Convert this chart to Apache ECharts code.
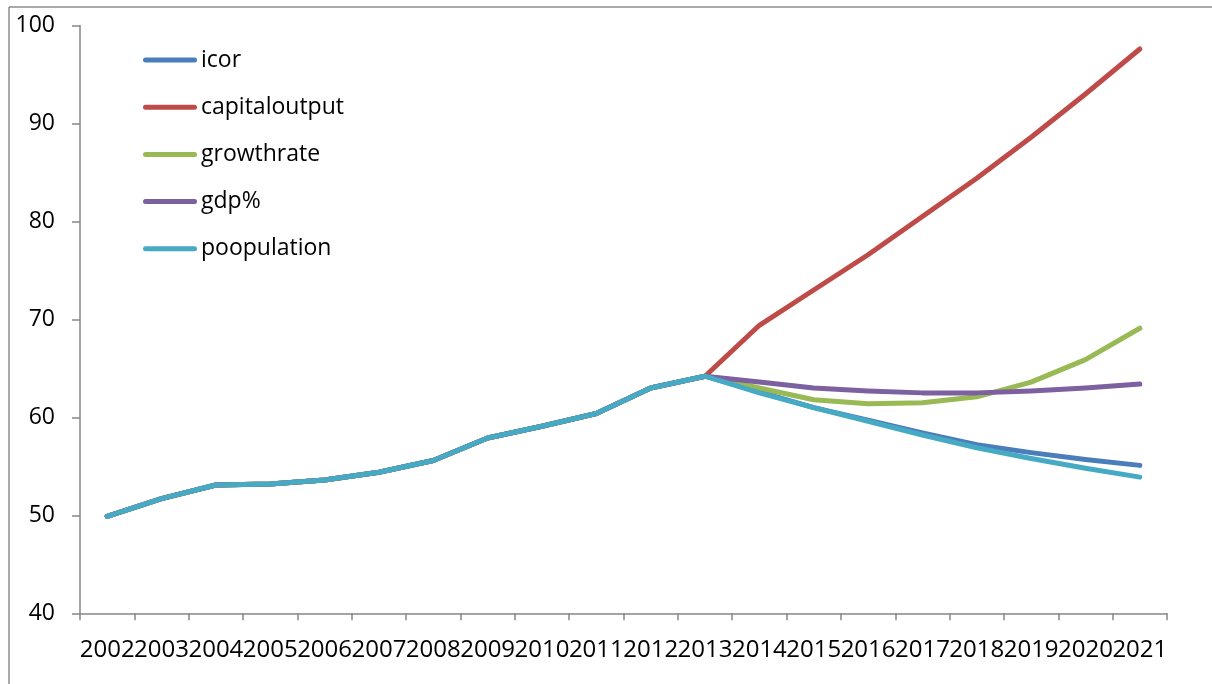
<!DOCTYPE html>
<html>
<head>
<meta charset="utf-8">
<script src="https://cdn.jsdelivr.net/npm/echarts@6/dist/echarts.min.js"></script>
<style>
  html, body { margin: 0; padding: 0; background: #fff; }
  #chart { width: 1212px; height: 684px; }
</style>
</head>
<body>
<div id="chart"></div>
<script>
// Years on the category axis
const years = ['2002','2003','2004','2005','2006','2007','2008','2009','2010','2011',
               '2012','2013','2014','2015','2016','2017','2018','2019','2020','2021'];

// Shared history 2002-2013, then each scenario diverges
const icor          = [49.9, 51.7, 53.1, 53.2, 53.6, 54.4, 55.6, 57.9, 59.1, 60.4, 63.0, 64.2,
                       62.6, 61.0, 59.7, 58.4, 57.2, 56.4, 55.7, 55.1];
const capitaloutput = [49.9, 51.7, 53.1, 53.2, 53.6, 54.4, 55.6, 57.9, 59.1, 60.4, 63.0, 64.2,
                       69.4, 73.0, 76.6, 80.5, 84.4, 88.6, 93.0, 97.6];
const growthrate    = [49.9, 51.7, 53.1, 53.2, 53.6, 54.4, 55.6, 57.9, 59.1, 60.4, 63.0, 64.2,
                       63.0, 61.8, 61.4, 61.5, 62.1, 63.6, 65.9, 69.1];
const gdpPct        = [49.9, 51.7, 53.1, 53.2, 53.6, 54.4, 55.6, 57.9, 59.1, 60.4, 63.0, 64.2,
                       63.6, 63.0, 62.7, 62.5, 62.5, 62.7, 63.0, 63.4];
const poopulation   = [49.9, 51.7, 53.1, 53.2, 53.6, 54.4, 55.6, 57.9, 59.1, 60.4, 63.0, 64.2,
                       62.5, 61.0, 59.6, 58.2, 56.9, 55.8, 54.8, 53.9];

const seriesNames  = ['icor', 'capitaloutput', 'growthrate', 'gdp%', 'poopulation'];
const seriesValues = [icor, capitaloutput, growthrate, gdpPct, poopulation];
const colors       = ['#4a7ebb', '#be4b48', '#98b954', '#7d60a0', '#46aac5'];

const FONT = 'Open Sans';
const chart = echarts.init(document.getElementById('chart'), null, { renderer: 'canvas' });

chart.setOption({
  animation: false,
  backgroundColor: '#ffffff',
  color: colors,
  textStyle: { fontFamily: FONT },
  grid: { left: 80, right: 45, top: 25.5, bottom: 70.7, containLabel: false },
  legend: {
    orient: 'vertical',
    left: 143,
    top: 48.5,
    padding: 0,
    itemGap: 24.2,
    itemWidth: 54,
    itemHeight: 25,
    icon: 'path://M2.5,10 L51.5,10 A2.5,2.5 0 0 1 51.5,15 L2.5,15 A2.5,2.5 0 0 1 2.5,10 Z',
    data: seriesNames.map((n, i) => ({
      name: n,
      itemStyle: { color: colors[i] },
      lineStyle: { width: 0 }
    })),
    textStyle: { fontFamily: FONT, fontSize: 23, color: '#000', padding: [0, 0, 0, -1] }
  },
  xAxis: {
    type: 'category',
    data: years,
    boundaryGap: true,
    axisLine: { lineStyle: { color: '#868686', width: 1.5 } },
    axisTick: { show: true, length: 7, alignWithLabel: false, interval: 0,
                lineStyle: { color: '#868686', width: 1.5 } },
    axisLabel: { interval: 0, fontFamily: FONT, fontSize: 24, color: '#000', margin: 25 },
    splitLine: { show: false }
  },
  yAxis: {
    type: 'value',
    min: 40,
    max: 100,
    interval: 10,
    axisLine: { show: true, lineStyle: { color: '#868686', width: 1.5 } },
    axisTick: { show: true, inside: false, length: 8, lineStyle: { color: '#868686', width: 1.5 } },
    axisLabel: { fontFamily: FONT, fontSize: 23, color: '#000', margin: 25 },
    splitLine: { show: false }
  },
  graphic: [
    { type: 'line', shape: { x1: 9, y1: 7, x2: 1212, y2: 7 },
      style: { stroke: '#8c8c8c', lineWidth: 1.5 }, silent: true },
    { type: 'line', shape: { x1: 9, y1: 7, x2: 9, y2: 684 },
      style: { stroke: '#8c8c8c', lineWidth: 1.5 }, silent: true }
  ],
  series: seriesNames.map((n, i) => ({
    name: n,
    type: 'line',
    data: seriesValues[i],
    showSymbol: false,
    symbol: 'none',
    lineStyle: { width: 5, color: colors[i], cap: 'round', join: 'round' },
    emphasis: { disabled: true },
    z: 2 + i
  }))
});
</script>
</body>
</html>
